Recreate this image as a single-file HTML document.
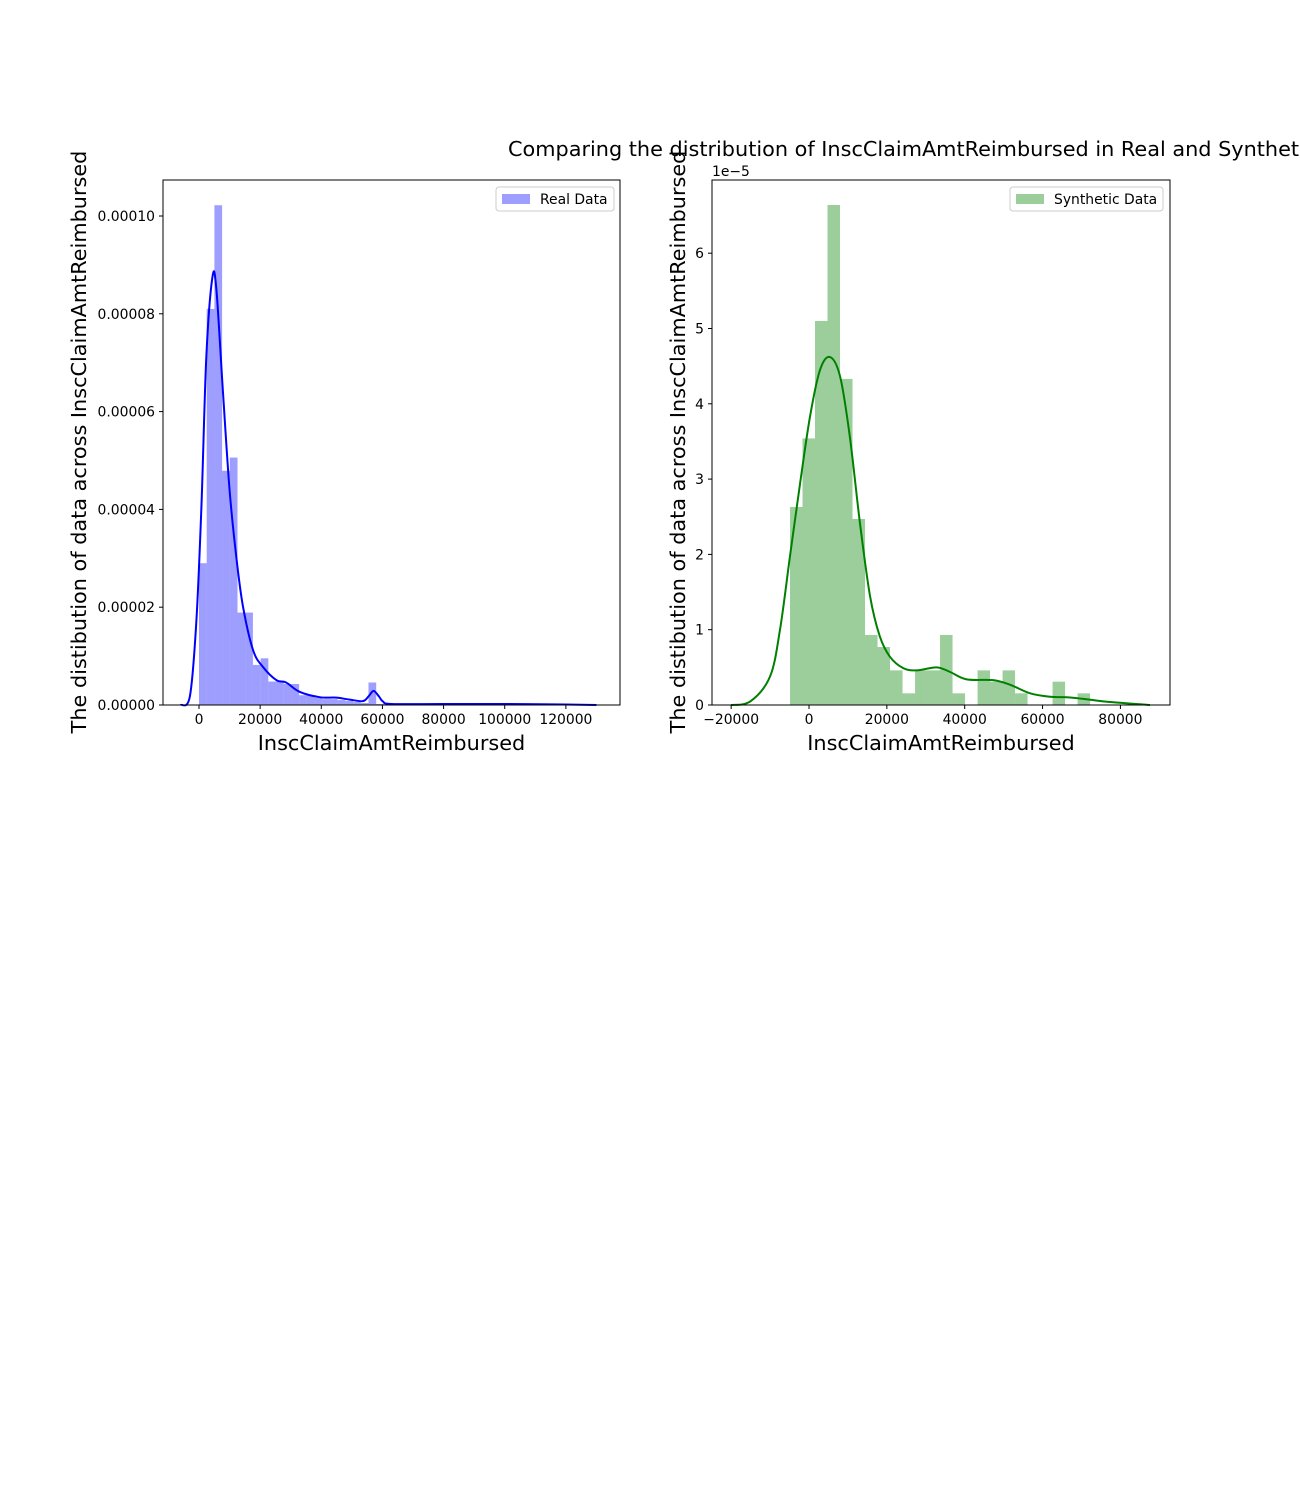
<!DOCTYPE html>
<html><head><meta charset="utf-8"><style>
body{margin:0;background:#fff;}
svg{display:block;font-family:"DejaVu Sans","Liberation Sans",sans-serif;}
</style></head><body>
<svg id="chart" width="1300" height="1500"></svg>
<script>
// Real data histogram (bin width 2520, starting at 0), density in 1e-5
const realBinStart = 0;
const realBinWidth = 2520;
const realHist = [2.9,8.1,10.22,4.79,5.06,1.89,1.89,0.82,0.955,0.48,0.48,0.43,0.43,0.2,0.2,0.15,0.12,0.12,0.1,0.08,0.06,0.04,0.46,0.02,0.01,0.01,0.01,0.01,0.01,0.01,0.01,0.01,0.01,0.01,0.01,0.01,0.01,0.01,0.01,0.01,0.01,0.01,0.01,0.01,0.01,0.01,0.01,0.01,0.01,0.01];
const realKdeX = [-6000,-3000,-900,800,2400,4400,5700,7800,10000,12200,14400,17700,20900,25300,28500,32900,39500,44900,49300,53600,55500,57100,58800,60200,63000,80000,100000,120000,130000];
const realKdeY = [0,0.17,1.67,4.06,7.12,8.75,8.49,6.44,4.40,3.03,2.01,1.12,0.78,0.51,0.46,0.27,0.16,0.15,0.11,0.08,0.18,0.29,0.18,0.07,0.02,0.02,0.02,0.01,0];
// Synthetic data histogram
const synBinStart = -4880;
const synBinWidth = 3212;
const synHist = [2.63,3.54,5.10,6.64,4.33,2.47,0.93,0.77,0.46,0.155,0.46,0.46,0.93,0.155,0,0.46,0.31,0.46,0.155,0,0,0.31,0,0.155];
const synKdeX = [-20000,-15000,-10000,-7450,-4900,-2300,260,2830,5400,8000,10500,13100,15700,18200,20800,24200,27700,32800,36200,40500,47300,51600,56800,61900,67100,72200,77300,87600];
const synKdeY = [0,0.05,0.38,1.0,1.97,2.94,3.83,4.45,4.62,4.36,3.56,2.41,1.44,0.91,0.64,0.49,0.46,0.50,0.44,0.34,0.33,0.27,0.155,0.11,0.10,0.07,0.04,0];
const realXTicks = [0,20000,40000,60000,80000,100000,120000];
const realYTicks = [0,2,4,6,8,10];
const realYTickLabels = ["0.00000","0.00002","0.00004","0.00006","0.00008","0.00010"];
const synXTicks = [-20000,0,20000,40000,60000,80000];
const synYTicks = [0,1,2,3,4,5,6];

const NS="http://www.w3.org/2000/svg";
const svg=document.getElementById('chart');
function mk(tag,attrs,parent){const e=document.createElementNS(NS,tag);for(const k in attrs)e.setAttribute(k,attrs[k]);(parent||svg).appendChild(e);return e;}
function smoothPath(pts){
  let d='M'+pts[0][0].toFixed(2)+','+pts[0][1].toFixed(2);
  for(let i=0;i<pts.length-1;i++){
    const p0=pts[Math.max(0,i-1)],p1=pts[i],p2=pts[i+1],p3=pts[Math.min(pts.length-1,i+2)];
    const c1=[p1[0]+(p2[0]-p0[0])/6,p1[1]+(p2[1]-p0[1])/6];
    const c2=[p2[0]-(p3[0]-p1[0])/6,p2[1]-(p3[1]-p1[1])/6];
    d+=' C'+c1[0].toFixed(2)+','+c1[1].toFixed(2)+' '+c2[0].toFixed(2)+','+c2[1].toFixed(2)+' '+p2[0].toFixed(2)+','+p2[1].toFixed(2);
  }
  return d;
}

function panel(o){
  const g=mk('g',{});
  
  
  const L=o.left,R=o.right,T=180,B=705;
  const sx=v=>L+(v-o.xmin)/(o.xmax-o.xmin)*(R-L);
  const sy=v=>B-(v-0)/(o.ymax)*(B-T);
  o.hist.forEach((h,i)=>{
    if(h<=0)return;
    const x0=sx(o.binStart+i*o.binWidth),x1=sx(o.binStart+(i+1)*o.binWidth);
    const r=mk('rect',{x:x0,y:sy(h),width:x1-x0,height:B-sy(h),fill:o.barColor},g);
    
    
  });
  const pts=o.kx.map((x,i)=>[sx(x),sy(o.ky[i])]);
  const p=mk('path',{d:smoothPath(pts),fill:'none',stroke:o.lineColor,'stroke-width':2,'stroke-linejoin':'round'},g);
  
  
  const f=mk('rect',{x:L,y:T,width:R-L,height:B-T,fill:'none',stroke:'#000','stroke-width':1},g);
  
  
  o.xt.forEach(v=>{
    const x=sx(v);
    mk('line',{x1:x,x2:x,y1:B,y2:B+4,stroke:'#000'},g);
    const t=mk('text',{x:x,y:B+19,'font-size':13.9,'text-anchor':'middle'},g);
    t.textContent=v<0?'\u2212'+(-v):String(v);
    
    
  });
  o.yt.forEach((v,i)=>{
    const y=sy(v);
    mk('line',{x1:L,x2:L-4,y1:y,y2:y,stroke:'#000'},g);
    const t=mk('text',{x:L-8,y:y+5,'font-size':13.9,'text-anchor':'end'},g);
    t.textContent=o.ytl?o.ytl[i]:String(v);
    
    
  });
  const xl=mk('text',{x:(L+R)/2,y:750,'font-size':20.8,'text-anchor':'middle'},g);
  xl.textContent='InscClaimAmtReimbursed';
  
  
  const yl=mk('text',{x:0,y:0,'font-size':20.8,'text-anchor':'middle',transform:`translate(${o.ylx},442) rotate(-90)`},g);
  yl.textContent='The distibution of data across InscClaimAmtReimbursed';
  
  
  const lg=mk('g',{},g);
  
  
  mk('rect',{x:o.lgx,y:187,width:o.lgw,height:24,rx:3,fill:'#fff',stroke:'#ccc'},lg);
  mk('rect',{x:o.lgx+6,y:194,width:28,height:10,fill:o.barColor},lg);
  const lt=mk('text',{x:o.lgx+44,y:204,'font-size':13.9},lg);
  lt.textContent=o.label;
  return {sx,sy};
}
panel({name:'real-data-panel',left:163,right:620,xmin:-11770,xmax:137700,ymax:10.736,hist:realHist,binStart:realBinStart,binWidth:realBinWidth,kx:realKdeX,ky:realKdeY,barColor:'rgba(0,0,255,0.38)',lineColor:'#0000ff',xt:realXTicks,yt:realYTicks,ytl:realYTickLabels,ylx:86,lgx:496,lgw:118,label:'Real Data'});
panel({name:'synthetic-data-panel',left:712,right:1170,xmin:-24920,xmax:92740,ymax:6.972,hist:synHist,binStart:synBinStart,binWidth:synBinWidth,kx:synKdeX,ky:synKdeY,barColor:'rgba(0,128,0,0.39)',lineColor:'#008000',xt:synXTicks,yt:synYTicks,ylx:685,lgx:1010,lgw:153,label:'Synthetic Data'});
const ex=mk('text',{x:712,y:176,'font-size':13.9});
ex.textContent='1e\u22125';


const ti=mk('text',{x:508,y:156,'font-size':20.8});
ti.textContent='Comparing the distribution of InscClaimAmtReimbursed in Real and Synthetic Data';


</script>
</body></html>
